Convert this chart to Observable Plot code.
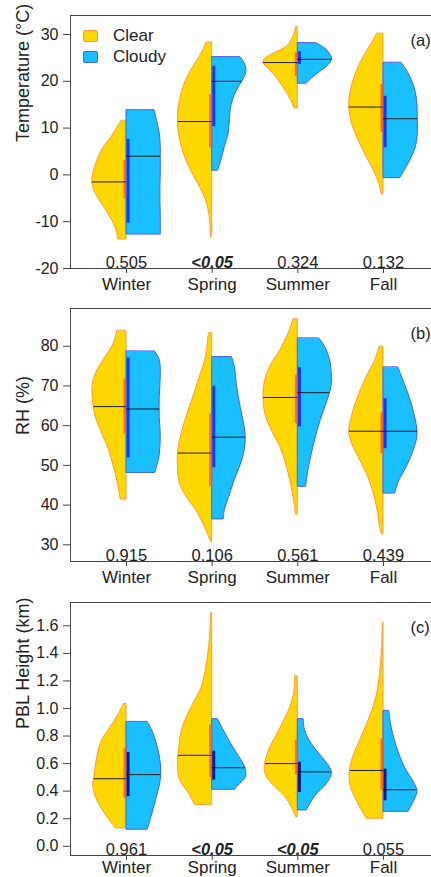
<!DOCTYPE html>
<html><head><meta charset="utf-8">
<script src="https://cdn.jsdelivr.net/npm/d3@7"></script>
<script src="https://cdn.jsdelivr.net/npm/@observablehq/plot@0.6"></script>
<style>
html,body{margin:0;padding:0;background:#fff;overflow:hidden;}
#wrap{position:relative;width:431px;height:877px;overflow:hidden;font-family:"Liberation Sans",Arial,sans-serif;color:#222;}
.panel{position:absolute;left:0;width:445px;height:293px;}
.panel svg{max-width:none !important;width:445px !important;height:293px !important;}
.lgbox{position:absolute;box-sizing:border-box;border-radius:2px;}
.lgtxt{position:absolute;font-size:17px;line-height:17px;white-space:nowrap;}
</style></head><body><div id="wrap"></div><script>
const seasons = ["Winter", "Spring", "Summer", "Fall"];

// ---------- (a) Temperature: half-violin outlines [value, relative half-width] ----------
const tempClear = [
  [[11.5,0.15],[8.8,0.37],[5.3,0.71],[1.7,0.92],[-1.5,1.0],[-4.0,0.9],[-6.8,0.66],[-9.7,0.42],[-12.5,0.27],[-13.8,0.25]],
  [[28.2,0.17],[25.9,0.31],[23.1,0.55],[19.5,0.8],[16.0,0.94],[12.4,1.0],[8.8,0.97],[5.3,0.86],[1.7,0.67],[-1.9,0.41],[-5.4,0.18],[-9.0,0.07],[-13.3,0.03]],
  [[31.5,0.05],[29.5,0.13],[27.4,0.32],[25.9,0.71],[24.5,0.99],[23.8,1.0],[22.4,0.81],[20.2,0.56],[18.1,0.37],[16.0,0.2],[14.2,0.1]],
  [[30.1,0.19],[28.1,0.34],[25.2,0.58],[21.7,0.8],[18.1,0.95],[14.5,1.0],[11.0,0.92],[7.4,0.73],[3.8,0.49],[0.3,0.24],[-2.6,0.1],[-4.2,0.05]]
];
const tempCloudy = [
  [[13.75,0.82],[11.7,0.89],[8.8,0.97],[6.0,1.0],[3.1,1.0],[0.3,1.0],[-2.6,0.99],[-5.4,0.99],[-9.0,1.0],[-12.75,1.0]],
  [[25.1,0.83],[23.8,0.95],[22.0,1.0],[20.2,0.9],[18.1,0.73],[16.0,0.61],[13.8,0.54],[11.0,0.51],[8.8,0.48],[6.0,0.37],[3.1,0.27],[0.9,0.17]],
  [[28.1,0.55],[27.0,0.8],[25.6,0.96],[24.7,1.0],[23.4,0.89],[22.0,0.65],[20.6,0.41],[19.5,0.26]],
  [[23.9,0.53],[21.7,0.73],[18.8,0.9],[16.0,0.98],[12.4,1.0],[8.8,1.0],[6.0,0.95],[3.8,0.83],[1.7,0.68],[-0.7,0.49]]
];
const tempClearMedian = [-1.5, 11.4, 24.0, 14.5];
const tempCloudyMedian = [4.0, 20.0, 24.7, 12.0];
const tempClearQ1 = [-5.1, 5.8, 21.0, 9.1];
const tempClearQ3 = [3.1, 17.2, 26.1, 19.3];
const tempCloudyQ1 = [-10.3, 10.3, 23.6, 5.8];
const tempCloudyQ3 = [7.6, 23.2, 26.3, 16.8];
const tempP = ["0.505", "<0.05", "0.324", "0.132"];
const tempTicks = [-20, -10, 0, 10, 20, 30];

// ---------- (b) RH ----------
const rhClear = [
  [[83.8,0.27],[80.7,0.37],[77.3,0.61],[73.9,0.85],[70.6,0.98],[66.4,0.98],[62.2,0.9],[58.0,0.71],[53.8,0.51],[49.6,0.37],[45.4,0.25],[41.4,0.17]],
  [[83.2,0.1],[77.3,0.18],[72.3,0.36],[67.2,0.55],[62.2,0.75],[58.0,0.89],[53.8,0.99],[49.6,1.0],[45.4,0.94],[42.1,0.75],[37.9,0.41],[33.7,0.17],[30.7,0.03]],
  [[86.7,0.13],[83.2,0.27],[79.0,0.51],[74.8,0.81],[70.6,0.97],[67.2,1.0],[63.0,0.95],[58.8,0.76],[54.6,0.51],[49.6,0.32],[45.4,0.2],[41.2,0.11],[37.6,0.05]],
  [[79.8,0.12],[76.5,0.24],[72.3,0.49],[68.1,0.7],[63.9,0.87],[60.5,0.97],[58.4,1.0],[55.5,0.92],[52.1,0.73],[47.9,0.49],[43.7,0.31],[38.7,0.17],[34.5,0.1],[32.6,0.05]]
];
const rhCloudy = [
  [[78.6,0.84],[76.5,0.97],[72.3,1.0],[67.2,0.97],[62.2,0.97],[57.2,1.0],[52.1,0.96],[49.6,0.89],[48.1,0.84]],
  [[77.2,0.58],[74.8,0.66],[69.7,0.73],[64.7,0.83],[60.5,0.93],[57.2,0.98],[53.8,0.95],[50.5,0.85],[46.3,0.66],[42.1,0.5],[38.7,0.37],[36.4,0.34]],
  [[81.9,0.63],[79.8,0.8],[76.5,0.94],[73.1,0.99],[69.7,0.98],[65.6,0.84],[61.4,0.67],[57.2,0.53],[53.0,0.41],[48.8,0.31],[44.6,0.24]],
  [[74.6,0.44],[71.4,0.58],[67.2,0.76],[63.0,0.9],[58.8,0.99],[56.3,0.97],[53.0,0.85],[49.6,0.68],[46.3,0.47],[42.9,0.34]]
];
const rhClearMedian = [64.8, 53.1, 67.1, 58.6];
const rhCloudyMedian = [64.2, 57.1, 68.3, 58.6];
const rhClearQ1 = [57.8, 44.7, 60.5, 53.0];
const rhClearQ3 = [71.8, 63.0, 72.7, 63.2];
const rhCloudyQ1 = [51.9, 49.4, 59.7, 54.2];
const rhCloudyQ3 = [77.0, 69.9, 74.6, 66.8];
const rhP = ["0.915", "0.106", "0.561", "0.439"];
const rhTicks = [30, 40, 50, 60, 70, 80];

// ---------- (c) PBL height ----------
const pblClear = [
  [[1.03,0.08],[0.96,0.22],[0.86,0.47],[0.77,0.71],[0.65,0.85],[0.52,0.93],[0.43,0.97],[0.33,0.85],[0.23,0.61],[0.13,0.32]],
  [[1.69,0.03],[1.56,0.05],[1.44,0.09],[1.30,0.17],[1.15,0.31],[1.01,0.6],[0.86,0.86],[0.72,0.96],[0.57,1.0],[0.48,0.94],[0.38,0.67],[0.30,0.5]],
  [[1.23,0.08],[1.15,0.09],[1.06,0.15],[0.94,0.34],[0.81,0.61],[0.69,0.85],[0.57,0.97],[0.50,0.9],[0.43,0.66],[0.36,0.37],[0.28,0.17],[0.21,0.05]],
  [[1.62,0.02],[1.44,0.04],[1.25,0.1],[1.08,0.21],[0.91,0.44],[0.77,0.68],[0.62,0.92],[0.52,0.99],[0.43,0.95],[0.33,0.78],[0.20,0.49]]
];
const pblCloudy = [
  [[0.90,0.62],[0.84,0.75],[0.72,0.91],[0.60,1.0],[0.48,1.0],[0.36,0.89],[0.23,0.75],[0.12,0.62]],
  [[0.92,0.17],[0.84,0.34],[0.74,0.56],[0.65,0.79],[0.56,0.98],[0.50,0.98],[0.45,0.81],[0.41,0.66]],
  [[0.92,0.17],[0.84,0.21],[0.74,0.41],[0.65,0.7],[0.57,0.94],[0.52,0.99],[0.45,0.84],[0.36,0.5],[0.26,0.26]],
  [[0.98,0.17],[0.86,0.24],[0.72,0.39],[0.57,0.63],[0.48,0.85],[0.40,0.99],[0.33,0.9],[0.25,0.73]]
];
const pblClearMedian = [0.49, 0.66, 0.60, 0.55];
const pblCloudyMedian = [0.52, 0.57, 0.54, 0.41];
const pblClearQ1 = [0.35, 0.50, 0.52, 0.41];
const pblClearQ3 = [0.71, 0.88, 0.77, 0.78];
const pblCloudyQ1 = [0.36, 0.48, 0.39, 0.33];
const pblCloudyQ3 = [0.68, 0.69, 0.61, 0.56];
const pblP = ["0.961", "<0.05", "<0.05", "0.055"];
const pblTicks = [0, 0.2, 0.4, 0.6, 0.8, 1.0, 1.2, 1.4, 1.6];

// ---------- styling ----------
const FONT = '"Liberation Sans", Arial, sans-serif';
const CLEAR_FILL = "#FFD700", CLEAR_STROKE = "#FF9A3C", CLEAR_BAR = "#FF5A1F";
const CLOUDY_FILL = "#19BFFF", CLOUDY_STROKE = "#3E63F5";
const HALF = 0.4;

function outlineRows(shapes, side, key) {
  const out = [];
  shapes.forEach((pts, i) => pts.forEach(([v, w]) =>
    out.push({key: key + i, v, x1: i + 1, x2: i + 1 + side * w * HALF})));
  return out;
}
function widthAt(pts, v) {
  for (let k = 0; k < pts.length - 1; k++) {
    const [a, wa] = pts[k], [b, wb] = pts[k + 1];
    if (v <= a && v >= b) return wa + (wb - wa) * (a - v) / (a - b);
  }
  return v > pts[0][0] ? pts[0][1] : pts[pts.length - 1][1];
}
function medianRows(shapes, med, side) {
  return med.map((m, i) => ({v: m, x1: i + 1, x2: i + 1 + side * widthAt(shapes[i], m) * HALF}));
}
function iqrRows(q1, q3) { return q1.map((a, i) => ({x: i + 1, q1: a, q3: q3[i]})); }

function panel(cfg) {
  const pv = cfg.p.map((t, i) => ({x: i + 1, t, sig: t.startsWith("<")}));
  return Plot.plot({
    width: 445, height: 293,
    marginLeft: 70, marginRight: 6, marginTop: 15, marginBottom: 25,
    x: {type: "linear", domain: [0.3463, 4.654]},
    y: {domain: cfg.domain},
    style: {fontFamily: FONT, fontSize: "16px", color: "#222", background: "transparent", overflow: "visible", maxWidth: "none"},
    marks: [
      Plot.areaX(outlineRows(cfg.clear, -1, "c"), {y: "v", x1: "x1", x2: "x2", z: "key", fill: CLEAR_FILL, stroke: CLEAR_STROKE, strokeWidth: 1, curve: "catmull-rom"}),
      Plot.areaX(outlineRows(cfg.cloudy, 1, "d"), {y: "v", x1: "x1", x2: "x2", z: "key", fill: CLOUDY_FILL, stroke: CLOUDY_STROKE, strokeWidth: 1, curve: "catmull-rom"}),
      Plot.ruleX(iqrRows(cfg.cq1, cfg.cq3), {x: "x", y1: "q1", y2: "q3", stroke: CLEAR_BAR, strokeOpacity: 0.85, strokeWidth: 3, dx: -1.5}),
      Plot.ruleX(iqrRows(cfg.dq1, cfg.dq3), {x: "x", y1: "q1", y2: "q3", stroke: cfg.cloudyBar, strokeWidth: 3, dx: 1.6}),
      Plot.ruleY(medianRows(cfg.clear, cfg.cmed, -1), {y: "v", x1: "x1", x2: "x2", stroke: "#1a1a1a", strokeWidth: 1}),
      Plot.ruleY(medianRows(cfg.cloudy, cfg.dmed, 1), {y: "v", x1: "x1", x2: "x2", stroke: "#1a1a1a", strokeWidth: 1}),
      Plot.text(pv.filter(d => !d.sig), {x: "x", text: "t", frameAnchor: "bottom", lineAnchor: "bottom", dy: -1, fontSize: 16.5}),
      Plot.text(pv.filter(d => d.sig), {x: "x", text: "t", frameAnchor: "bottom", lineAnchor: "bottom", dy: -1, fontSize: 16.5, fontWeight: "bold", fontStyle: "italic"}),
      Plot.text([cfg.tag], {frameAnchor: "top-right", textAnchor: "start", dx: -29, dy: 18.5, fontSize: 16.5}),
      Plot.text([cfg.title], {frameAnchor: "left", dx: -47, rotate: -90, fontSize: 18}),
      Plot.axisY({ticks: cfg.ticks, tickFormat: cfg.fmt, tickSize: 7, tickPadding: 5, fontSize: 16, label: null, stroke: "#444"}),
      Plot.axisX({ticks: [1, 2, 3, 4], tickFormat: i => seasons[i - 1], tickSize: 5, tickPadding: cfg.xPad, fontSize: 17, label: null, stroke: "#444"}),
      Plot.frame({stroke: "#444", strokeWidth: 1})
    ]
  });
}

const wrap = document.getElementById("wrap");
const cfgs = [
  {top: 0, domain: [-20, 34.06], clear: tempClear, cloudy: tempCloudy, cmed: tempClearMedian, dmed: tempCloudyMedian,
   cq1: tempClearQ1, cq3: tempClearQ3, dq1: tempCloudyQ1, dq3: tempCloudyQ3, p: tempP, ticks: tempTicks, fmt: d => String(d),
   tag: "(a)", title: "Temperature (°C)", cloudyBar: "#1038FF", xPad: 4},
  {top: 293, domain: [25.8, 89.5], clear: rhClear, cloudy: rhCloudy, cmed: rhClearMedian, dmed: rhCloudyMedian,
   cq1: rhClearQ1, cq3: rhClearQ3, dq1: rhCloudyQ1, dq3: rhCloudyQ3, p: rhP, ticks: rhTicks, fmt: d => String(d),
   tag: "(b)", title: "RH (%)", cloudyBar: "#1038FF", xPad: 4},
  {top: 587, domain: [-0.067, 1.769], clear: pblClear, cloudy: pblCloudy, cmed: pblClearMedian, dmed: pblCloudyMedian,
   cq1: pblClearQ1, cq3: pblClearQ3, dq1: pblCloudyQ1, dq3: pblCloudyQ3, p: pblP, ticks: pblTicks, fmt: d => d.toFixed(1),
   tag: "(c)", title: "PBL Height (km)", cloudyBar: "#101C8C", xPad: 0.5}
];
for (const c of cfgs) {
  const div = document.createElement("div");
  div.className = "panel";
  div.style.top = c.top + "px";
  div.appendChild(panel(c));
  wrap.appendChild(div);
}

// legend (panel a)
const legend = [
  {label: "Clear", fill: CLEAR_FILL, stroke: CLEAR_STROKE, top: 29.5},
  {label: "Cloudy", fill: CLOUDY_FILL, stroke: CLOUDY_STROKE, top: 50.8}
];
for (const l of legend) {
  const b = document.createElement("div");
  b.className = "lgbox";
  Object.assign(b.style, {left: "83px", top: l.top + "px", width: "15px", height: "12px", background: l.fill, border: "1px solid " + l.stroke});
  wrap.appendChild(b);
  const t = document.createElement("div");
  t.className = "lgtxt";
  t.textContent = l.label;
  Object.assign(t.style, {left: "113px", top: (l.top - 2.5) + "px"});
  wrap.appendChild(t);
}
</script></body></html>
